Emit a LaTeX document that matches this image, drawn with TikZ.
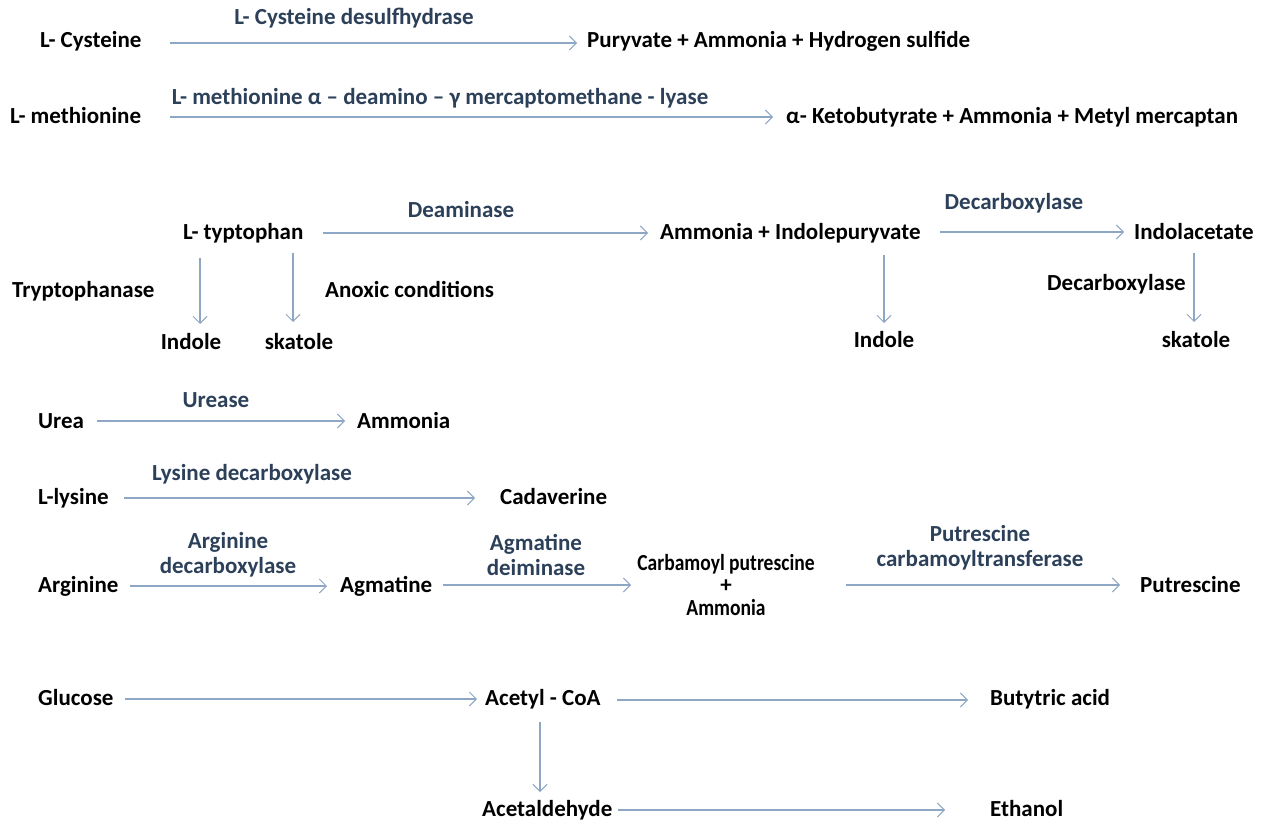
\documentclass[tikz,border=0pt]{standalone}
\usepackage{fontspec}
\usepackage{graphicx}
\setmainfont{Carlito}
\usetikzlibrary{arrows.meta,calc}
\definecolor{enzblue}{HTML}{2C405A}
\definecolor{arrowc}{HTML}{8EA7C4}
\tikzset{
  ent/.style={font=\bfseries\fontsize{23}{26}\selectfont, inner sep=0pt, text height=15pt, text depth=5pt},
  entm/.style={font=\bfseries\fontsize{23}{22.5}\selectfont, inner sep=0pt, align=center},
  enz/.style={ent, text=enzblue},
  enzm/.style={font=\bfseries\fontsize{23}{25}\selectfont, inner sep=0pt, align=center, text=enzblue},
  arr/.style={draw=arrowc, line width=1.2pt, -{Straight Barb[length=7pt,width=14pt,line width=1pt]}}
}
\begin{document}
\begin{tikzpicture}[x=1pt,y=-1pt]
\fill[white] (0,0) rectangle (1263,821);
\useasboundingbox (0,0) rectangle (1263,821);
% Row 1
\node[ent,anchor=west] (cys) at (40,43) {L- Cysteine};
\node[ent,anchor=west] (pyr) at (587,43) {Puryvate + Ammonia + Hydrogen sulfide};
\node[enz] (e1) at (354,20) {L- Cysteine desulfhydrase};
\draw[arr] ($(cys.west)+(130,0)$) -- ($(pyr.west)+(-10,0)$);
% Row 2
\node[ent,anchor=west] (met) at (10,119) {L- methionine};
\node[ent,anchor=west] (keto) at (786,119) {α- Ketobutyrate + Ammonia + Metyl mercaptan};
\node[enz] (e2) at (440,100) {L- methionine α – deamino – γ mercaptomethane - lyase};
\draw[arr] ($(met.west)+(160,-2)$) -- ($(keto.west)+(-13,-2)$);
% Row 3
\node[ent,anchor=west] (trp) at (183,234) {L- typtophan};
\node[ent,anchor=west] (ammind) at (660,234) {Ammonia + Indolepuryvate};
\node[ent,anchor=west] (indac) at (1134,234) {Indolacetate};
\node[enz] (e3) at (461,213) {Deaminase};
\node[enz] (e4) at (1014,204) {Decarboxylase};
\draw[arr] ($(trp.west)+(140,-1)$) -- ($(ammind.west)+(-12,-1)$);
\draw[arr] ($(ammind.west)+(280,-2)$) -- ($(indac.west)+(-10,-2)$);
\node[ent,anchor=west] (tpase) at (12,292) {Tryptophanase};
\node[ent,anchor=west] (anox) at (325,292) {Anoxic conditions};
\node[ent] (ind1) at (191,344) {Indole};
\node[ent] (ska1) at (299,344) {skatole};
\draw[arr] ($(trp.west)+(17,24)$) -- ($(trp.west |- ind1.center)+(17,-20)$);
\draw[arr] ($(trp.west)+(110,19)$) -- ($(trp.west |- ska1.center)+(110,-22)$);
\node[ent] (ind2) at (884,342) {Indole};
\draw[arr] ($(ammind.west)+(224,21)$) -- ($(ammind.west |- ind2.center)+(224,-19)$);
\node[ent,anchor=west] (dec2) at (1047,285) {Decarboxylase};
\node[ent] (ska2) at (1196,342) {skatole};
\draw[arr] ($(indac.west)+(60,19)$) -- ($(indac.west |- ska2.center)+(60,-20)$);
% Urea
\node[ent,anchor=west] (urea) at (38,423) {Urea};
\node[ent,anchor=west] (amm) at (357,423) {Ammonia};
\node[enz] (e5) at (216,402) {Urease};
\draw[arr] ($(urea.west)+(59,-2)$) -- ($(amm.west)+(-12,-2)$);
% Lysine
\node[ent,anchor=west] (lys) at (38,499) {L-lysine};
\node[ent,anchor=west] (cad) at (500,499) {Cadaverine};
\node[enz] (e6) at (252,475) {Lysine decarboxylase};
\draw[arr] ($(lys.west)+(86,-1)$) -- ($(cad.west)+(-25,-1)$);
% Arginine
\node[ent,anchor=west] (arg) at (38,587) {Arginine};
\node[ent,anchor=west] (agm) at (340,587) {Agmatine};
\node[entm] (carb) at (726,585) {\scalebox{0.85}[1]{Carbamoyl putrescine}\\+\\\scalebox{0.85}[1]{Ammonia}};
\node[ent,anchor=west] (put) at (1140,587) {Putrescine};
\node[enzm] (e7) at (228,555) {Arginine\\decarboxylase};
\node[enzm] (e8) at (536,555) {Agmatine\\deiminase};
\node[enzm] (e9) at (980,548) {Putrescine\\carbamoyltransferase};
\draw[arr] ($(arg.west)+(92,-1)$) -- ($(agm.west)+(-13,-1)$);
\draw[arr] ($(agm.west)+(103,-2)$) -- ($(carb.center)+(-95,0)$);
\draw[arr] ($(carb.center)+(120,0)$) -- ($(put.west)+(-20,-2)$);
% Glucose
\node[ent,anchor=west] (glu) at (38,700) {Glucose};
\node[ent,anchor=west] (acoa) at (485,700) {Acetyl - CoA};
\node[ent,anchor=west] (but) at (990,700) {Butytric acid};
\node[ent,anchor=west] (acet) at (482,811) {Acetaldehyde};
\node[ent,anchor=west] (eth) at (990,811) {Ethanol};
\draw[arr] ($(glu.west)+(87,-1)$) -- ($(acoa.west)+(-8,-1)$);
\draw[arr] ($(acoa.west)+(132,0)$) -- ($(but.west)+(-22,0)$);
\draw[arr] ($(acoa.west)+(55,22)$) -- ($(acoa.west |- acet.center)+(55,-19)$);
\draw[arr] ($(acet.west)+(136,-1)$) -- ($(eth.west)+(-45,-1)$);
\end{tikzpicture}
\end{document}
